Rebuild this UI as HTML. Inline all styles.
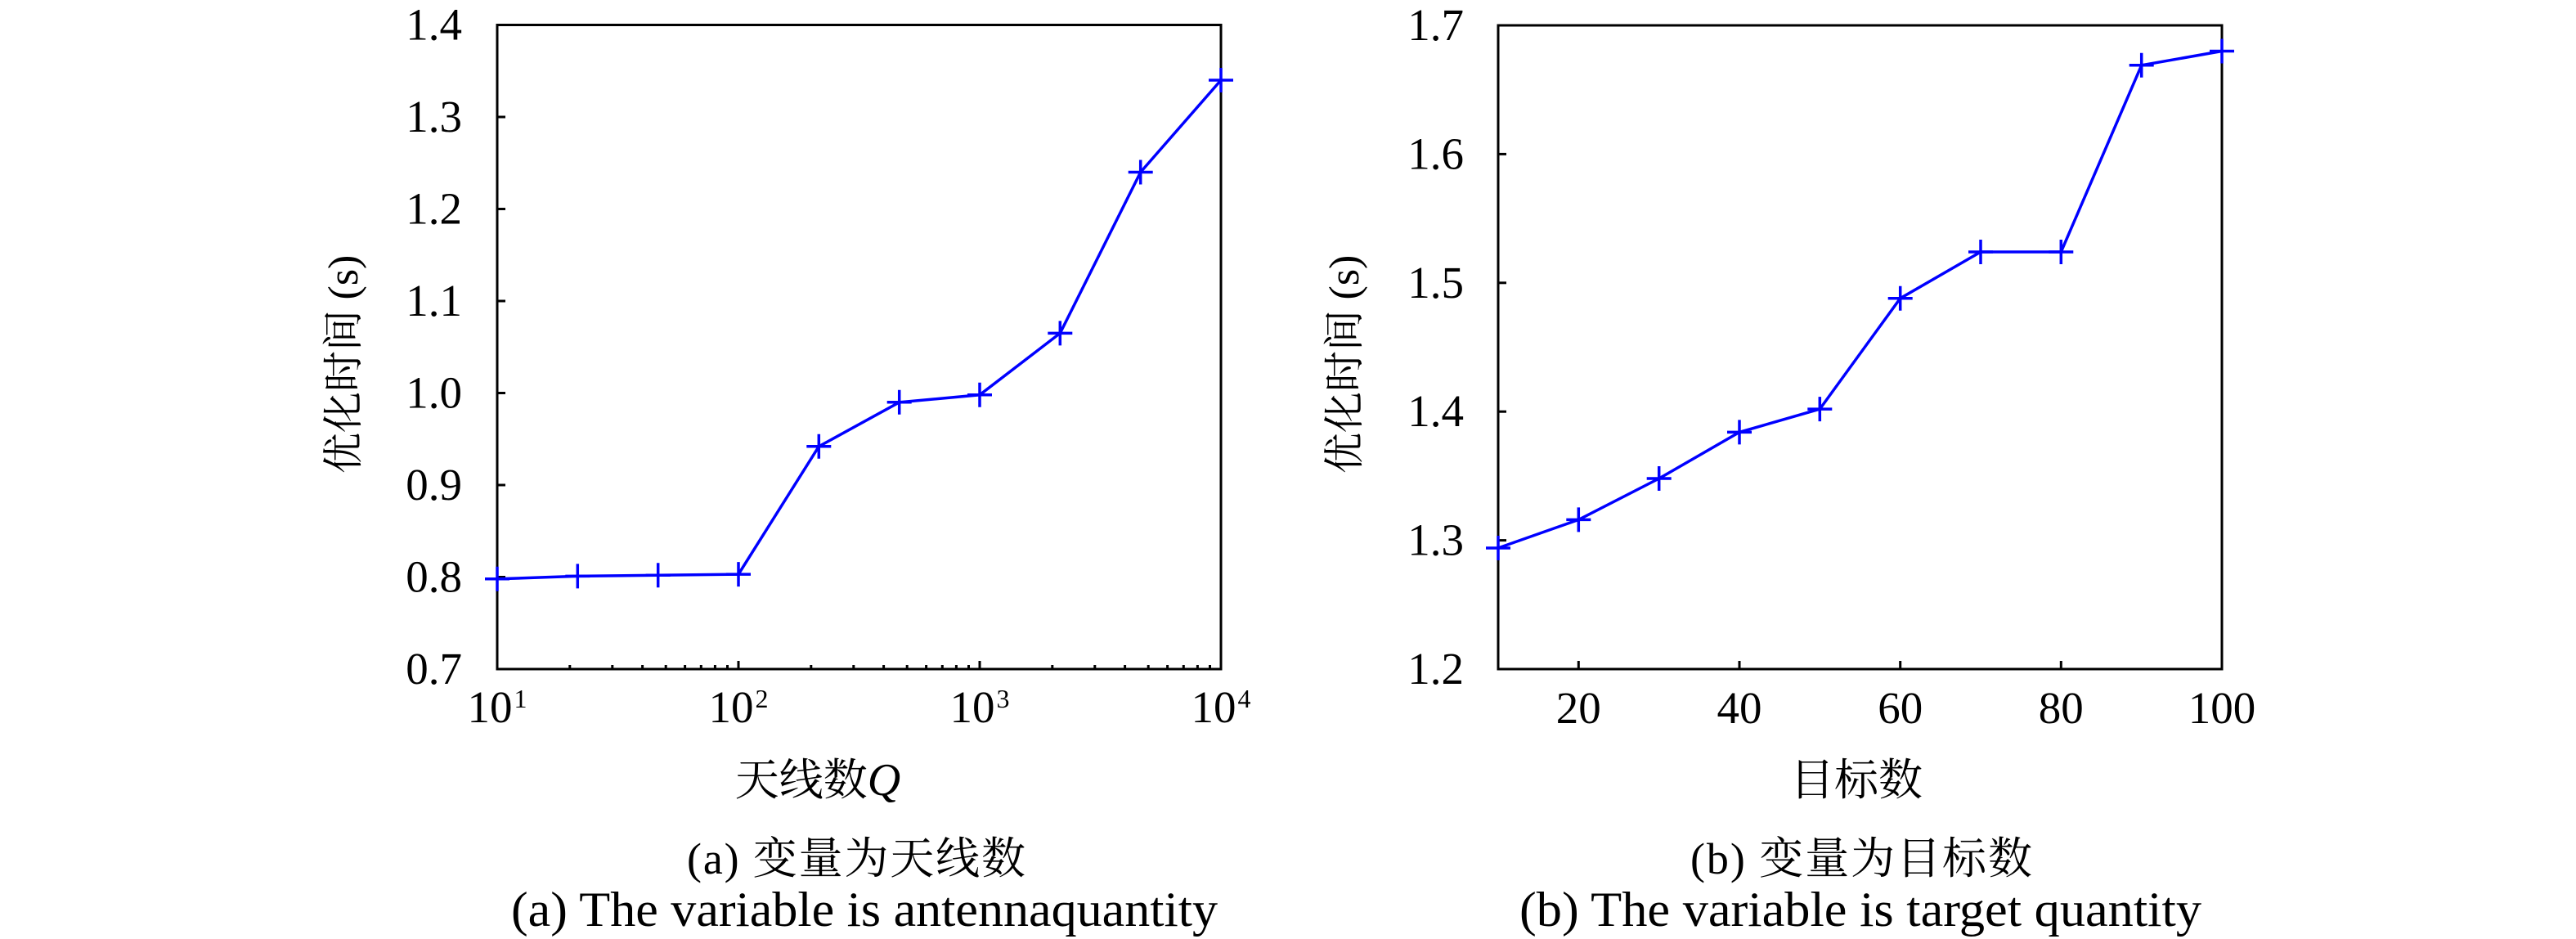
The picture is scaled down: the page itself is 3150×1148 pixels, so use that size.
<!DOCTYPE html>
<html>
<head>
<meta charset="utf-8">
<style>
  html, body { margin: 0; padding: 0; background: #ffffff; }
  svg { display: block; }
</style>
</head>
<body>
<svg width="3150" height="1148" viewBox="0 0 3150 1148" xmlns="http://www.w3.org/2000/svg">
  <rect x="0" y="0" width="3150" height="1148" fill="#ffffff"/>

  <!-- ================= LEFT PLOT ================= -->
  <rect x="608" y="30.5" width="885" height="787.5" fill="none" stroke="#000" stroke-width="3"/>

  <g stroke="#000" stroke-width="3">
    <line x1="608" y1="705.5" x2="618" y2="705.5"/>
    <line x1="608" y1="593" x2="618" y2="593"/>
    <line x1="608" y1="480.5" x2="618" y2="480.5"/>
    <line x1="608" y1="368" x2="618" y2="368"/>
    <line x1="608" y1="255.5" x2="618" y2="255.5"/>
    <line x1="608" y1="143" x2="618" y2="143"/>
    <line x1="903" y1="818" x2="903" y2="808"/>
    <line x1="1198" y1="818" x2="1198" y2="808"/>
  </g>
  <g stroke="#000" stroke-width="3">
    <line x1="696.8" y1="818" x2="696.8" y2="813"/>
    <line x1="748.8" y1="818" x2="748.8" y2="813"/>
    <line x1="785.6" y1="818" x2="785.6" y2="813"/>
    <line x1="814.2" y1="818" x2="814.2" y2="813"/>
    <line x1="837.6" y1="818" x2="837.6" y2="813"/>
    <line x1="857.3" y1="818" x2="857.3" y2="813"/>
    <line x1="874.4" y1="818" x2="874.4" y2="813"/>
    <line x1="889.5" y1="818" x2="889.5" y2="813"/>
    <line x1="991.8" y1="818" x2="991.8" y2="813"/>
    <line x1="1043.8" y1="818" x2="1043.8" y2="813"/>
    <line x1="1080.6" y1="818" x2="1080.6" y2="813"/>
    <line x1="1109.2" y1="818" x2="1109.2" y2="813"/>
    <line x1="1132.6" y1="818" x2="1132.6" y2="813"/>
    <line x1="1152.3" y1="818" x2="1152.3" y2="813"/>
    <line x1="1169.4" y1="818" x2="1169.4" y2="813"/>
    <line x1="1184.5" y1="818" x2="1184.5" y2="813"/>
    <line x1="1286.8" y1="818" x2="1286.8" y2="813"/>
    <line x1="1338.8" y1="818" x2="1338.8" y2="813"/>
    <line x1="1375.6" y1="818" x2="1375.6" y2="813"/>
    <line x1="1404.2" y1="818" x2="1404.2" y2="813"/>
    <line x1="1427.6" y1="818" x2="1427.6" y2="813"/>
    <line x1="1447.3" y1="818" x2="1447.3" y2="813"/>
    <line x1="1464.4" y1="818" x2="1464.4" y2="813"/>
    <line x1="1479.5" y1="818" x2="1479.5" y2="813"/>
  </g>

  <g font-family="Liberation Serif, serif" font-size="55" fill="#000" text-anchor="end">
    <text x="565" y="836" font-family="Liberation Serif, serif">0.7</text>
    <text x="565" y="723.5" font-family="Liberation Serif, serif">0.8</text>
    <text x="565" y="611" font-family="Liberation Serif, serif">0.9</text>
    <text x="565" y="498.5" font-family="Liberation Serif, serif">1.0</text>
    <text x="565" y="386" font-family="Liberation Serif, serif">1.1</text>
    <text x="565" y="273.5" font-family="Liberation Serif, serif">1.2</text>
    <text x="565" y="161" font-family="Liberation Serif, serif">1.3</text>
    <text x="565" y="48.5" font-family="Liberation Serif, serif">1.4</text>
  </g>
  <g font-family="Liberation Serif, serif" font-size="55" fill="#000" text-anchor="middle">
    <text x="608" y="883" font-family="Liberation Serif, serif">10<tspan dx="2" dy="-18" font-size="32">1</tspan></text>
    <text x="903" y="883" font-family="Liberation Serif, serif">10<tspan dx="2" dy="-18" font-size="32">2</tspan></text>
    <text x="1198" y="883" font-family="Liberation Serif, serif">10<tspan dx="2" dy="-18" font-size="32">3</tspan></text>
    <text x="1493" y="883" font-family="Liberation Serif, serif">10<tspan dx="2" dy="-18" font-size="32">4</tspan></text>
  </g>

  <text font-family="Liberation Serif, Noto Serif CJK SC, Noto Serif CJK JP, serif" font-size="50" fill="#000" transform="translate(437,579) rotate(-90)" text-anchor="start" xml:space="preserve">优化时间 <tspan font-size="52">(s)</tspan></text>
  <text font-family="Liberation Serif, Noto Serif CJK SC, Noto Serif CJK JP, serif" font-size="54" fill="#000" x="1000" y="972" text-anchor="middle">天线数<tspan font-family="Liberation Serif, serif" font-style="italic" font-size="56">Q</tspan></text>

  <polyline fill="none" stroke="#0000ff" stroke-width="3.5" stroke-linejoin="miter"
    points="608,707.8 706.3,704.4 804.7,703.3 903,702.1 1001.3,545.8 1099.7,491.8 1198,482.8 1296.3,407.4 1394.7,210.5 1493,98"/>
  <g stroke="#0000ff" stroke-width="3.5">
    <path d="M593,707.8h30M608,692.8v30"/>
    <path d="M691.3,704.4h30M706.3,689.4v30"/>
    <path d="M789.7,703.3h30M804.7,688.3v30"/>
    <path d="M888,702.1h30M903,687.1v30"/>
    <path d="M986.3,545.8h30M1001.3,530.8v30"/>
    <path d="M1084.7,491.8h30M1099.7,476.8v30"/>
    <path d="M1183,482.8h30M1198,467.8v30"/>
    <path d="M1281.3,407.4h30M1296.3,392.4v30"/>
    <path d="M1379.7,210.5h30M1394.7,195.5v30"/>
    <path d="M1478,98h30M1493,83v30"/>
  </g>

  <text font-family="Liberation Serif, Noto Serif CJK SC, Noto Serif CJK JP, serif" font-size="54" fill="#000" x="1047" y="1068" text-anchor="middle" textLength="414" lengthAdjust="spacing">(a) 变量为天线数</text>
  <text font-family="Liberation Serif, serif" font-size="60" fill="#000" x="1057" y="1132" text-anchor="middle" textLength="864" lengthAdjust="spacingAndGlyphs">(a) The variable is antennaquantity</text>

  <!-- ================= RIGHT PLOT ================= -->
  <rect x="1832" y="31" width="885" height="787" fill="none" stroke="#000" stroke-width="3"/>

  <g stroke="#000" stroke-width="3">
    <line x1="1832" y1="660.6" x2="1842" y2="660.6"/>
    <line x1="1832" y1="503.2" x2="1842" y2="503.2"/>
    <line x1="1832" y1="345.8" x2="1842" y2="345.8"/>
    <line x1="1832" y1="188.4" x2="1842" y2="188.4"/>
    <line x1="1930.3" y1="818" x2="1930.3" y2="808"/>
    <line x1="2127" y1="818" x2="2127" y2="808"/>
    <line x1="2323.7" y1="818" x2="2323.7" y2="808"/>
    <line x1="2520.3" y1="818" x2="2520.3" y2="808"/>
  </g>

  <g font-family="Liberation Serif, serif" font-size="55" fill="#000" text-anchor="end">
    <text x="1790" y="836" font-family="Liberation Serif, serif">1.2</text>
    <text x="1790" y="678.6" font-family="Liberation Serif, serif">1.3</text>
    <text x="1790" y="521.2" font-family="Liberation Serif, serif">1.4</text>
    <text x="1790" y="363.8" font-family="Liberation Serif, serif">1.5</text>
    <text x="1790" y="206.4" font-family="Liberation Serif, serif">1.6</text>
    <text x="1790" y="49" font-family="Liberation Serif, serif">1.7</text>
  </g>
  <g font-family="Liberation Serif, serif" font-size="55" fill="#000" text-anchor="middle">
    <text x="1930.3" y="884" font-family="Liberation Serif, serif">20</text>
    <text x="2127" y="884" font-family="Liberation Serif, serif">40</text>
    <text x="2323.7" y="884" font-family="Liberation Serif, serif">60</text>
    <text x="2520.3" y="884" font-family="Liberation Serif, serif">80</text>
    <text x="2717" y="884" font-family="Liberation Serif, serif">100</text>
  </g>

  <text font-family="Liberation Serif, Noto Serif CJK SC, Noto Serif CJK JP, serif" font-size="50" fill="#000" transform="translate(1661,579) rotate(-90)" text-anchor="start" xml:space="preserve">优化时间 <tspan font-size="52">(s)</tspan></text>
  <text font-family="Liberation Serif, Noto Serif CJK SC, Noto Serif CJK JP, serif" font-size="54" fill="#000" x="2270" y="972" text-anchor="middle">目标数</text>

  <polyline fill="none" stroke="#0000ff" stroke-width="3.5" stroke-linejoin="miter"
    points="1832,670 1930.3,635.4 2028.7,585 2127,528.4 2225.3,500.1 2323.7,364.7 2422,308 2520.3,308 2618.7,79.8 2717,62.5"/>
  <g stroke="#0000ff" stroke-width="3.5">
    <path d="M1817,670h30M1832,655v30"/>
    <path d="M1915.3,635.4h30M1930.3,620.4v30"/>
    <path d="M2013.7,585h30M2028.7,570v30"/>
    <path d="M2112,528.4h30M2127,513.4v30"/>
    <path d="M2210.3,500.1h30M2225.3,485.1v30"/>
    <path d="M2308.7,364.7h30M2323.7,349.7v30"/>
    <path d="M2407,308h30M2422,293v30"/>
    <path d="M2505.3,308h30M2520.3,293v30"/>
    <path d="M2603.7,79.8h30M2618.7,64.8v30"/>
    <path d="M2702,62.5h30M2717,47.5v30"/>
  </g>

  <text font-family="Liberation Serif, Noto Serif CJK SC, Noto Serif CJK JP, serif" font-size="54" fill="#000" x="2276" y="1068" text-anchor="middle" textLength="418" lengthAdjust="spacing">(b) 变量为目标数</text>
  <text font-family="Liberation Serif, serif" font-size="60" fill="#000" x="2275" y="1132" text-anchor="middle" textLength="834" lengthAdjust="spacingAndGlyphs">(b) The variable is target quantity</text>
</svg>
</body>
</html>
